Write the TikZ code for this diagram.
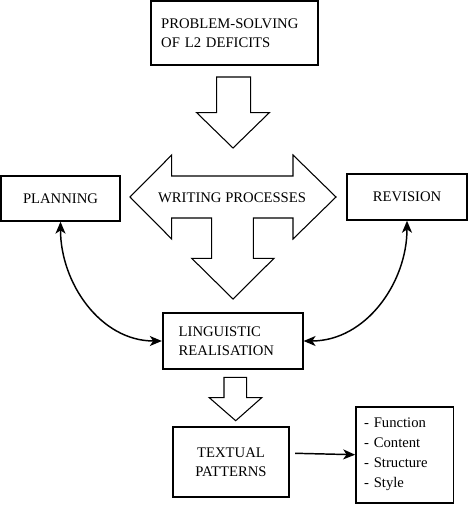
\documentclass[tikz,border=0pt]{standalone}
\usepackage{fontspec}
\setmainfont{Liberation Serif}
\usetikzlibrary{arrows.meta}

\begin{document}
\begin{tikzpicture}[x=0.75pt,y=-0.75pt,
	box/.style={draw,line width=1.3pt,inner sep=0pt,font=\fontsize{11}{14.5}\selectfont},
	blockarrow/.style={draw,line width=0.8pt,fill=white,line join=miter},
	hd/.tip={Stealth[length=9pt,width=7.5pt,inset=2.5pt]},
	link/.style={line width=1.1pt}]

	\useasboundingbox (0,0) rectangle (468,505);

	% top box and first arrow
	\node[box,minimum width=125pt,minimum height=48pt,text width=110pt,align=left] (problem) at (234.5,33){PROBLEM-SOLVING\\OF L2 DEFICITS};
	\draw[blockarrow] (216.7,77)--(250.7,77)--(250.7,112.7)--(269.3,112.7)--(233,148)--(196.7,112.7)--(216.7,112.7) -- cycle;

	% writing processes
	\draw[blockarrow] (130,197)--(171.7,155)--(171.7,176)--(293,176)--(293,155)--(336,197)--(293,239)--(293,218)--(253.3,218)--(253.3,258.3)--(274,258.3)--(233,299)--(191.7,258.3)--(211.7,258.3)--(211.7,218)--(171.7,218)--(171.7,239) -- cycle;
	\node[font=\fontsize{11}{12}\selectfont] (writing) at (232,198){WRITING PROCESSES};

	\node[box,minimum width=89.25pt,minimum height=33.75pt] (planning) at (60.5,198.3){PLANNING};
	\node[box,minimum width=89.75pt,minimum height=34.3pt] (revision) at (407,197){REVISION};

	% linguistic realisation
	\node[box,minimum width=105pt,minimum height=42.2pt,text width=81pt,align=left] (linguistic) at (232.7,341){LINGUISTIC\\REALISATION};
	\draw[link,hd-hd] (planning.south) to[out=270,in=180] (linguistic.west);
	\draw[link,hd-hd] (revision.south) to[out=270,in=0] (linguistic.east);

	\draw[blockarrow] (224,377.3)--(246.7,377.3)--(246.7,397.7)--(261.7,397.7)--(235.7,420.7)--(209.3,397.7)--(224,397.7) -- cycle;

	% textual patterns
	\node[box,minimum width=87.5pt,minimum height=52.5pt,align=center] (textual) at (231,462.3){TEXTUAL\\PATTERNS};
	\node[box,minimum width=73pt,minimum height=72pt,text width=61pt,align=left,font=\fontsize{11}{15}\selectfont] (features) at (404.7,454.7){- Function\\- Content\\- Structure\\- Style};
	\draw[link,-hd] ([shift={(5,-9)}]textual.east) -- (features.west);
\end{tikzpicture}
\end{document}
